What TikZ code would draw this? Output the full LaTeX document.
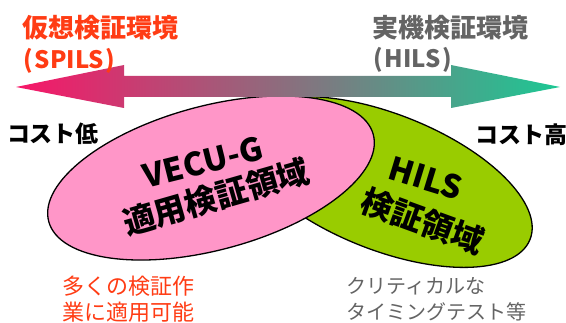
\documentclass[tikz,border=0pt]{standalone}
\usepackage{fontspec}
\usetikzlibrary{shapes.geometric}
\newfontfamily\jpfont{Noto Sans CJK JP}
\definecolor{simred}{RGB}{255,60,20}
\definecolor{realgray}{RGB}{100,100,100}
\definecolor{vecupink}{RGB}{255,150,200}
\definecolor{hilsgreen}{RGB}{153,204,0}
\definecolor{arrowleft}{RGB}{248,22,104}
\definecolor{arrowmid}{RGB}{192,140,125}
\definecolor{arrowright}{RGB}{28,200,148}

\begin{document}
\begin{tikzpicture}[x=1pt,y=-1pt,
  every node/.style={inner sep=0pt,font=\jpfont},
  area/.style={ellipse,draw=black,line width=1.3pt,inner sep=0pt},
  areatext/.style={font=\jpfont\bfseries\fontsize{32}{38}\selectfont},
  title/.style={anchor=west,font=\jpfont\bfseries\fontsize{26}{30}\selectfont},
  subtitle/.style={anchor=west,font=\jpfont\bfseries\fontsize{24}{28}\selectfont},
  cost/.style={font=\jpfont\bfseries\fontsize{23}{27}\selectfont},
  note/.style={anchor=west,align=left}]
\useasboundingbox (0,0) rectangle (566,323);
% the two areas
\node[area,fill=hilsgreen,minimum width=312pt,minimum height=136pt,rotate=-21.6] (hils) at (385,182) {};
\node[area,fill=vecupink,minimum width=336pt,minimum height=144pt,rotate=15] (vecu) at (211,178) {};
% cost axis
\shade[left color=arrowleft,middle color=arrowmid,right color=arrowright]
  (16,87) -- (124,65) -- (124,76) -- (451,76) -- (451,65) -- (560,87)
  -- (451,108) -- (451,97) -- (124,97) -- (124,108) -- cycle;
% titles
\node[title,text=simred] (simtitle) at (22,28) {仮想検証環境};
\node[subtitle,text=simred] (simname) at (23,61) {(\kern2pt SPILS\kern2pt)};
\node[title,text=realgray] (realtitle) at (372,28) {実機検証環境};
\node[subtitle,text=realgray] (realname) at (373,60) {(\kern2pt HILS\kern2pt)};
\node[cost] (costlow) at (53,134) {コスト低};
\node[cost] (costhigh) at (521,135) {コスト高};
% area labels
\node[areatext,rotate=14] (vecuname) at (203,162) {VECU-G};
\node[areatext,rotate=16] (vecuarea) at (216,197) {適用検証領域};
\node[areatext,rotate=-17] (hilsname) at (426,178) {HILS};
\node[areatext,rotate=-20] (hilsarea) at (423,221) {検証領域};
% notes
\node[note,text=simred,font=\jpfont\fontsize{22}{26}\selectfont] (simnote) at (62,299) {多くの検証作\\業に適用可能};
\node[note,text=realgray,font=\jpfont\fontsize{20}{26}\selectfont] (realnote) at (346,299) {クリティカルな\\タイミングテスト等};
\end{tikzpicture}
\end{document}
